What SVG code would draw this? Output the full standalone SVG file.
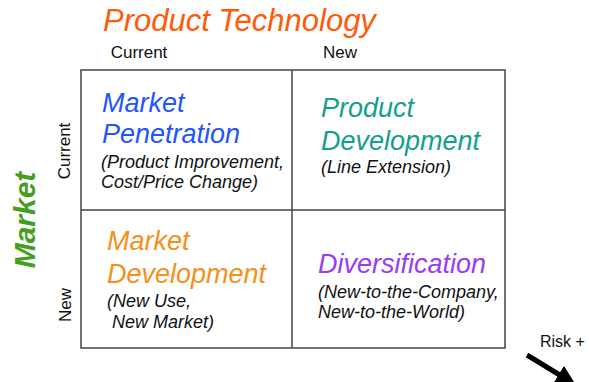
<svg xmlns="http://www.w3.org/2000/svg" width="589" height="382" viewBox="0 0 589 382">
<style>
text{font-family:"Liberation Sans",Arial,sans-serif}
.ax{font-size:17px;fill:#111}
.big{font-size:27px;font-style:italic}
.sub{font-size:18px;font-style:italic;fill:#111}
.grid{fill:none;stroke:#444;stroke-width:1.5}
</style>
<defs>
<marker id="ah" markerWidth="4" markerHeight="4" refX="1" refY="2" orient="auto" markerUnits="strokeWidth">
<path d="M0,0 L4,2 L0,4 Z" fill="#000"/>
</marker>
</defs>
<rect width="589" height="382" fill="#fff"/>
<g id="title">
<text x="103" y="31" font-size="31" font-style="italic" fill="#ff5a0a">Product Technology</text>
</g>
<g id="axis-labels">
<text class="ax" x="139" y="58" text-anchor="middle">Current</text>
<text class="ax" x="340" y="58" text-anchor="middle">New</text>
<text class="ax" transform="translate(70,151) rotate(-90)" text-anchor="middle">Current</text>
<text class="ax" transform="translate(71,305) rotate(-90)" text-anchor="middle">New</text>
<text transform="translate(35,220) rotate(-90)" text-anchor="middle" font-size="30" font-weight="bold" font-style="italic" fill="#44a01c">Market</text>
</g>
<g id="grid">
<rect class="grid" x="81" y="70" width="424" height="278"/>
<line class="grid" x1="292" y1="70" x2="292" y2="348"/>
<line class="grid" x1="81" y1="210" x2="505" y2="210"/>
</g>
<g id="market-penetration">
<text class="big" x="102" y="112" fill="#2255ff">Market</text>
<text class="big" x="102" y="143" fill="#2255ff">Penetration</text>
<text class="sub" x="101" y="168">(Product Improvement,</text>
<text class="sub" x="101" y="188">Cost/Price Change)</text>
</g>
<g id="product-development">
<text class="big" x="321" y="117" fill="#14a08a">Product</text>
<text class="big" x="321" y="150" fill="#14a08a">Development</text>
<text class="sub" x="321" y="173">(Line Extension)</text>
</g>
<g id="market-development">
<text class="big" x="107" y="250" fill="#f5901a">Market</text>
<text class="big" x="107" y="283" fill="#f5901a">Development</text>
<text class="sub" x="107" y="307">(New Use,</text>
<text class="sub" x="107" y="328" xml:space="preserve"> New Market)</text>
</g>
<g id="diversification">
<text class="big" x="318" y="273" fill="#9b3cf0">Diversification</text>
<text class="sub" x="318" y="298">(New-to-the-Company,</text>
<text class="sub" x="318" y="318">New-to-the-World)</text>
</g>
<g id="connectors">
<text x="540" y="347" font-size="16" fill="#111">Risk +</text>
<line x1="527" y1="355" x2="563" y2="377" stroke="#000" stroke-width="5" marker-end="url(#ah)"/>
</g>
</svg>
